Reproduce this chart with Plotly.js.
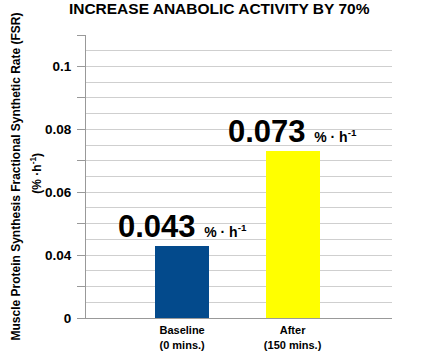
<!DOCTYPE html>
<html>
<head>
<meta charset="utf-8">
<script src="https://cdn.plot.ly/plotly-3.0.1.min.js"></script>
<style>html,body{margin:0;padding:0;background:#fff;}#chart{width:434px;height:357px;}</style>
</head>
<body>
<div id="chart"></div>
<script>
// Data
var categories = ["Baseline<br>(0 mins.)", "After<br>(150 mins.)"];
var fsrValues = [0.043, 0.073];
var valueLabels = ["0.043", "0.073"];
var barColors = ["#034a8c", "#ffff00"];
// The axis is broken: the "0" label sits one step below 0.04
var axisBase = 0.02;
var tickVals = [0.02, 0.04, 0.06, 0.08, 0.10];
var tickText = ["0", "0.04", "0.06", "0.08", "0.1"];
var unitText = "% · h<sup>-1</sup>";

var SANS = "Liberation Sans, Arial, sans-serif";

var trace = {
  type: "bar",
  x: categories,
  y: fsrValues.map(function(v){ return v - axisBase; }),
  base: axisBase,
  width: 0.49,
  marker: {color: barColors, line: {width: 0}},
  hoverinfo: "skip"
};
// helper trace for the overlaying axis that draws the dense gridlines
var gridTrace = {type: "scatter", x: [categories[0]], y: [axisBase], yaxis: "y2", mode: "markers", marker: {opacity: 0}, hoverinfo: "skip", showlegend: false};

var annotations = categories.map(function(c, i){
  return {
    x: c, y: fsrValues[i], xref: "x", yref: "y",
    text: "<b>" + valueLabels[i] + "</b> <span style='font-size:14px'><b>" + unitText + "</b></span>",
    showarrow: false, xanchor: "center", yanchor: "bottom", yshift: 0,
    font: {family: SANS, size: 31, color: "#000"}
  };
});
annotations.push({
  text: "(% ·h<sup>-1</sup>)", textangle: -90,
  xref: "paper", yref: "paper", x: 0, y: 0.51, xanchor: "center", yanchor: "middle",
  xshift: -50, showarrow: false,
  font: {family: SANS, size: 12, color: "#000", weight: "bold"}
});

var layout = {
  width: 434, height: 357,
  margin: {l: 86, r: 42, t: 35, b: 39},
  paper_bgcolor: "#fff", plot_bgcolor: "#fff",
  showlegend: false,
  title: {text: "INCREASE ANABOLIC ACTIVITY BY 70%", x: 0.505, xanchor: "center", y: 0.975, yanchor: "middle", yref: "container",
          font: {family: SANS, size: 15.5, color: "#000", weight: "bold"}},
  bargap: 0,
  xaxis: {
    type: "category", range: [-0.87, 1.9],
    showline: true, linecolor: "#999", linewidth: 1,
    ticks: "", showgrid: false, zeroline: false,
    ticklabelstandoff: 2,
    tickfont: {family: SANS, size: 11, color: "#000", weight: "bold"}
  },
  yaxis: {
    range: [0.02, 0.11], fixedrange: true,
    tickmode: "array", tickvals: tickVals, ticktext: tickText,
    ticks: "outside", ticklen: 8, tickcolor: "#999", tickwidth: 1,
    ticklabelstandoff: 3,
    minor: {tick0: 0.02, dtick: 0.01, ticks: "outside", ticklen: 8, tickcolor: "#999", tickwidth: 1, showgrid: false},
    showline: true, linecolor: "#999", linewidth: 1,
    showgrid: false, zeroline: false,
    tickfont: {family: SANS, size: 13.5, color: "#000", weight: "bold"},
    title: {text: "Muscle Protein Synthesis Fractional Synthetic Rate (FSR)", standoff: 21,
            font: {family: SANS, size: 12, color: "#000", weight: "bold"}}
  },
  yaxis2: {
    overlaying: "y", range: [0.02, 0.11], dtick: 0.005, tick0: 0.02,
    showgrid: true, gridcolor: "#cfcfcf", gridwidth: 1,
    showticklabels: false, ticks: "", showline: false, zeroline: false
  },
  annotations: annotations
};

Plotly.newPlot("chart", [gridTrace, trace], layout, {displayModeBar: false, staticPlot: true});
</script>
</body>
</html>
